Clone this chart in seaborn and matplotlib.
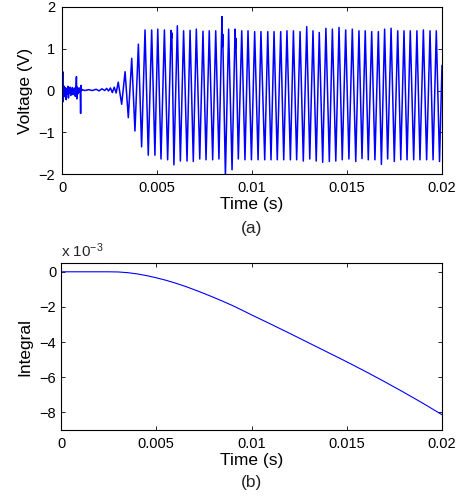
import matplotlib
matplotlib.use('Agg')
import matplotlib.pyplot as plt
import pandas as pd
import seaborn as sns

# Datos (tiempo en s, voltaje en V)
noise_t = [0.0, 0.00002, 0.00004, 0.00006, 0.00008, 0.00010, 0.00013, 0.00016,
           0.00019, 0.00022, 0.00025, 0.00028, 0.00031, 0.00034, 0.00037,
           0.00040, 0.00043, 0.00046, 0.00049, 0.00052, 0.00055, 0.00058,
           0.00061, 0.00064, 0.00067, 0.00070, 0.00073, 0.00076, 0.00078,
           0.00081, 0.00084, 0.00087, 0.00090, 0.00093, 0.00096, 0.00098,
           0.00100, 0.00103, 0.00106]
noise_v = [0.0, 0.10, 0.45, -0.27, 0.12, -0.15, 0.08, -0.10, 0.06, -0.22, 0.05,
           -0.08, 0.10, -0.18, 0.04, -0.06, 0.08, -0.12, 0.05, -0.05, 0.07,
           -0.10, 0.03, -0.06, 0.06, -0.14, 0.02, 0.33, -0.20, 0.08, -0.08,
           0.05, -0.04, 0.06, -0.03, -0.55, 0.12, 0.0, 0.02]

quiet_t = [0.0012, 0.0014, 0.0016, 0.0018, 0.00195, 0.0021, 0.00225, 0.00235,
           0.00245, 0.00255, 0.00265, 0.00275, 0.00285]
quiet_v = [0.0, 0.02, 0.0, 0.03, -0.01, 0.04, 0.0, 0.05, -0.01, 0.06, -0.05,
           0.08, -0.06]

grow_t = [0.00296, 0.00314, 0.00332, 0.00349, 0.00367, 0.00384, 0.00402,
          0.00419, 0.00437, 0.00454, 0.00472, 0.00489]
grow_v = [0.20, -0.33, 0.45, -0.65, 0.77, -0.97, 1.11, -1.35, 1.45, -1.55,
          1.45, -1.55]

peak_t = [0.00504, 0.00539, 0.00574, 0.00607, 0.00640, 0.00674, 0.00707,
          0.00742, 0.00775, 0.00809, 0.00842, 0.00877, 0.00911, 0.00946,
          0.00979, 0.01014, 0.01047, 0.01083, 0.01116, 0.01151, 0.01184,
          0.01218, 0.01253, 0.01288, 0.01321, 0.01354, 0.01389, 0.01423,
          0.01458, 0.01493, 0.01528, 0.01563, 0.01596, 0.01630, 0.01665,
          0.01698, 0.01732, 0.01767, 0.01800, 0.01833, 0.01868, 0.01902,
          0.01937, 0.01970]
peak_v = [1.47, 1.45, 1.44, 1.55, 1.43, 1.44, 1.47, 1.42, 1.43, 1.43, 1.77,
          1.47, 1.47, 1.43, 1.43, 1.41, 1.41, 1.41, 1.41, 1.41, 1.43, 1.43,
          1.41, 1.53, 1.43, 1.39, 1.49, 1.47, 1.51, 1.45, 1.47, 1.43, 1.43,
          1.41, 1.41, 1.47, 1.49, 1.43, 1.43, 1.43, 1.43, 1.45, 1.43, 1.43]

trough_t = [0.00521, 0.00556, 0.00589, 0.00623, 0.00658, 0.00691, 0.00725,
            0.00758, 0.00793, 0.00826, 0.00860, 0.00895, 0.00928, 0.00963,
            0.00997, 0.01032, 0.01067, 0.01100, 0.01133, 0.01167, 0.01202,
            0.01235, 0.01270, 0.01304, 0.01338, 0.01372, 0.01407, 0.01441,
            0.01475, 0.01510, 0.01546, 0.01579, 0.01612, 0.01647, 0.01681,
            0.01714, 0.01749, 0.01783, 0.01816, 0.01851, 0.01884, 0.01919,
            0.01953, 0.01987]
trough_v = [-1.64, -1.66, -1.78, -1.69, -1.69, -1.70, -1.64, -1.66, -1.66,
            -1.64, -2.05, -1.90, -1.64, -1.66, -1.66, -1.66, -1.66, -1.66,
            -1.66, -1.66, -1.66, -1.66, -1.69, -1.64, -1.69, -1.72, -1.70,
            -1.69, -1.66, -1.64, -1.70, -1.63, -1.66, -1.66, -1.77, -1.64,
            -1.70, -1.66, -1.66, -1.66, -1.66, -1.66, -1.66, -1.70]

# pequeños saltos sobre algunos picos
glitch_t = [0.00576, 0.00578, 0.00844, 0.00846, 0.00913, 0.00915, 0.02]
glitch_v = [1.25, 1.38, 1.05, 1.35, 1.00, 1.25, 0.60]

# Integral (escala x 10^-3)
int_t = [0, 0.001, 0.002, 0.0025, 0.003, 0.0035, 0.004, 0.0045, 0.005, 0.0055,
         0.006, 0.0065, 0.007, 0.0075, 0.008, 0.0085, 0.009, 0.0095, 0.01,
         0.011, 0.012, 0.013, 0.014, 0.015, 0.016, 0.017, 0.018, 0.019, 0.02]
int_v = [0, 0, 0, 0, -0.01, -0.05, -0.12, -0.22, -0.34, -0.48, -0.64, -0.82,
         -1.02, -1.23, -1.45, -1.68, -1.92, -2.18, -2.45, -2.97, -3.5, -4.04,
         -4.58, -5.12, -5.68, -6.26, -6.86, -7.48, -8.13]

x_ticks = [0, 0.005, 0.01, 0.015, 0.02]
x_ticklabels = ['0', '0.005', '0.01', '0.015', '0.02']

# Se arma el df del voltaje
df_v = pd.DataFrame({
    't': noise_t + quiet_t + grow_t + peak_t + trough_t + glitch_t,
    'v': noise_v + quiet_v + grow_v + peak_v + trough_v + glitch_v,
}).sort_values('t')
df_i = pd.DataFrame({'t': int_t, 'v': int_v})

sns.set_style('ticks')
plt.rcParams['font.family'] = ['Liberation Sans', 'DejaVu Sans']
plt.rcParams['mathtext.fontset'] = 'custom'
plt.rcParams['mathtext.rm'] = 'Liberation Sans'
plt.rcParams['mathtext.default'] = 'regular'
plt.rcParams['xtick.direction'] = 'in'
plt.rcParams['ytick.direction'] = 'in'
plt.rcParams['xtick.top'] = True
plt.rcParams['ytick.right'] = True
plt.rcParams['axes.edgecolor'] = 'black'
plt.rcParams['axes.linewidth'] = 0.8

fig = plt.figure(figsize=(4.61, 4.99), dpi=100)
ax1 = fig.add_axes([62 / 461, 1 - 174 / 499, 380 / 461, 167 / 499])
ax2 = fig.add_axes([61 / 461, 1 - 430 / 499, 381 / 461, 167 / 499])

sns.lineplot(data=df_v, x='t', y='v', ax=ax1, color='#0000ff', lw=1.1,
             estimator=None, sort=False)
sns.lineplot(data=df_i, x='t', y='v', ax=ax2, color='#0000ff', lw=0.8,
             estimator=None, sort=False)

for ax in [ax1, ax2]:
    ax.set_xlim(0, 0.02)
    ax.set_xticks(x_ticks)
    ax.set_xticklabels(x_ticklabels)
    ax.tick_params(labelsize=10.5, length=3, width=0.6, color='black',
                   labelcolor='black')
    ax.tick_params(axis='x', pad=5)
    ax.set_xlabel('Time (s)', fontsize=12.5, labelpad=1.5, color='black')

ax1.set_ylim(-2, 2)
ax1.set_yticks([-2, -1, 0, 1, 2])
ax1.tick_params(axis='y', pad=5)
ax1.set_ylabel('Voltage (V)', fontsize=12.5, labelpad=4, color='black')

ax2.set_ylim(-9, 0.5)
ax2.set_yticks([-8, -6, -4, -2, 0])
ax2.tick_params(axis='y', pad=3.5)
ax2.set_ylabel('Integral', fontsize=12.5, labelpad=5, color='black')
ax2.text(0, 1.036, r'x 10$^{-3}$', transform=ax2.transAxes, ha='left',
         va='baseline', fontsize=11)

fig.text(252 / 461, 1 - 229 / 499, '(a)', ha='center', va='center',
         fontsize=12.5)
fig.text(251.5 / 461, 1 - 483 / 499, '(b)', ha='center', va='center',
         fontsize=12.5)

fig.savefig('out.png', dpi=100)
